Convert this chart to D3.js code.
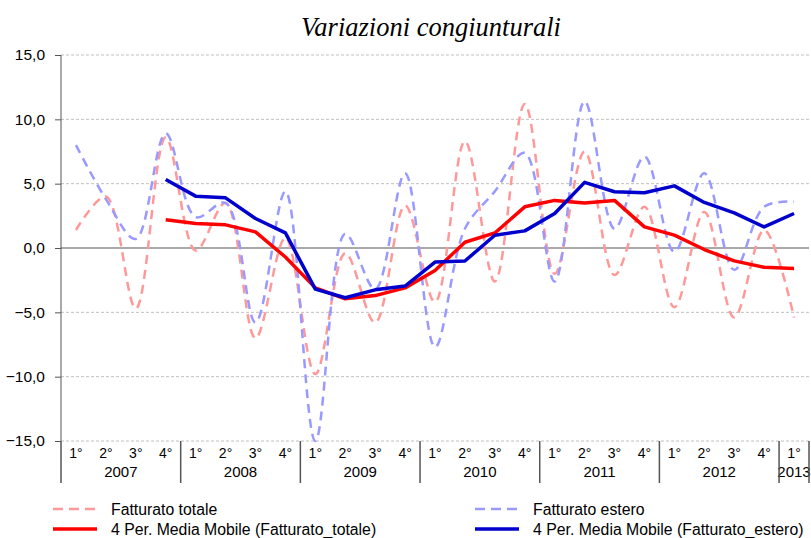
<!DOCTYPE html>
<meta charset="utf-8">
<style>
  body { margin: 0; background: #fff; }
  text { font-family: "Liberation Sans", Arial, sans-serif; fill: #000; }
  .grid line { stroke: #c0c0c0; stroke-dasharray: 3,2; }
</style>
<body>
<div id="chart"></div>
<script src="https://d3js.org/d3.v7.min.js"></script>
<script>

// quarters 2007 Q1 .. 2013 Q1
var years = ["2007", "2008", "2009", "2010", "2011", "2012", "2013"];
var quarterLabels = ["1°", "2°", "3°", "4°"];
var yTicks = [15, 10, 5, 0, -5, -10, -15];

var fatturatoTotale = [1.4, 4.0, -4.7, 8.6, -0.2, 3.5, -7.0, 0.8, -9.8, -0.4, -5.8, 3.3,
                       -4.2, 8.3, -2.6, 11.2, -2.0, 7.5, -2.1, 3.2, -4.6, 2.8, -5.4, 1.4, -5.4];
var fatturatoEstero = [8.0, 3.8, 0.7, 8.9, 2.4, 3.5, -5.8, 4.4, -15.0, 1.1, -3.2, 5.8,
                       -7.7, 1.5, 4.4, 7.4, -2.6, 11.4, 1.5, 7.1, -0.3, 5.8, -1.7, 3.2, 3.6];
// 4 period moving averages (start at 4th quarter 2007)
var mediaTotale = [null, null, null, 2.2, 1.9, 1.8, 1.25, -0.7, -3.1, -3.95, -3.7, -3.1,
                   -1.75, 0.45, 1.17, 3.2, 3.7, 3.5, 3.7, 1.64, 1.0, -0.12, -1.0, -1.5, -1.6];
var mediaEstero = [null, null, null, 5.33, 4.03, 3.9, 2.29, 1.17, -3.2, -3.87, -3.25, -2.96,
                   -1.09, -1.01, 0.99, 1.33, 2.68, 5.1, 4.37, 4.29, 4.83, 3.54, 2.73, 1.64, 2.68];

var quarters = [];
years.forEach(function(y) {
  quarterLabels.forEach(function(q) {
    if (quarters.length < fatturatoTotale.length) quarters.push({year: y, q: q, key: y + "-" + q});
  });
});

var width = 811, height = 538;
var svg = d3.select("#chart").append("svg")
    .attr("width", width)
    .attr("height", height);

var x = d3.scaleBand()
    .domain(quarters.map(function(d) { return d.key; }))
    .range([61, 809]);
var y = d3.scaleLinear().domain([-15, 15]).range([441, 55]);

function cx(i) { return x(quarters[i].key) + x.bandwidth() / 2; }

// title
svg.append("text")
    .attr("x", 431)
    .attr("y", 36)
    .attr("text-anchor", "middle")
    .style("font-family", "'Liberation Serif', 'Times New Roman', serif")
    .style("font-style", "italic")
    .style("font-size", "26.5px")
    .text("Variazioni congiunturali");

// gridlines
svg.append("g")
    .attr("class", "grid")
    .selectAll("line")
    .data(yTicks.filter(function(d) { return d !== 0; }))
    .enter().append("line")
      .attr("x1", 61).attr("x2", 809)
      .attr("y1", function(d) { return y(d); })
      .attr("y2", function(d) { return y(d); });

// y axis
var gy = svg.append("g")
    .attr("transform", "translate(61,0)")
    .call(d3.axisLeft(y).tickValues(yTicks).tickSize(6).tickPadding(10)
      .tickFormat(function(d) { return d3.format(".1f")(d).replace(".", ","); }));
gy.select(".domain").attr("stroke", "#555").attr("d", "M0," + y(15) + "V" + y(-15));
gy.selectAll(".tick line").attr("stroke", "#555");
gy.selectAll(".tick text")
    .style("font-size", "15.5px")
    .style("font-family", "'Liberation Sans', Arial, sans-serif")
    .attr("fill", "#000");

// zero line
svg.append("line")
    .attr("x1", 61).attr("x2", 809)
    .attr("y1", y(0)).attr("y2", y(0))
    .attr("stroke", "#555")
    .attr("stroke-width", 1.2);

// x axis: quarter labels, years, dividers
svg.append("g")
    .selectAll("text")
    .data(quarters)
    .enter().append("text")
      .attr("x", function(d, i) { return cx(i); })
      .attr("y", 458)
      .attr("text-anchor", "middle")
      .style("font-size", "14px")
      .text(function(d) { return d.q; });

years.forEach(function(yr) {
  var idx = [];
  quarters.forEach(function(d, i) { if (d.year === yr) idx.push(i); });
  var x0 = x(quarters[idx[0]].key);
  var x1 = x(quarters[idx[idx.length - 1]].key) + x.bandwidth();
  svg.append("text")
      .attr("x", (x0 + x1) / 2)
      .attr("y", 477)
      .attr("text-anchor", "middle")
      .style("font-size", "15px")
      .text(yr);
  svg.append("line")
      .attr("x1", x0).attr("x2", x0)
      .attr("y1", 441).attr("y2", 483)
      .attr("stroke", "#555").attr("stroke-width", 1.5);
  if (yr === years[years.length - 1]) {
    svg.append("line")
        .attr("x1", x1).attr("x2", x1)
        .attr("y1", 441).attr("y2", 483)
        .attr("stroke", "#555").attr("stroke-width", 1.5);
  }
});

// lines
var smooth = d3.line()
    .defined(function(d) { return d != null; })
    .x(function(d, i) { return cx(i); })
    .y(function(d) { return y(d); })
    .curve(d3.curveCatmullRom.alpha(0.5));

var straight = d3.line()
    .defined(function(d) { return d != null; })
    .x(function(d, i) { return cx(i); })
    .y(function(d) { return y(d); });

var series = [
  {name: "Fatturato totale", data: fatturatoTotale, color: "#ff9999", dash: "9,6", w: 2.5, line: smooth},
  {name: "Fatturato estero", data: fatturatoEstero, color: "#9999ff", dash: "9,6", w: 2.5, line: smooth},
  {name: "4 Per. Media Mobile (Fatturato_totale)", data: mediaTotale, color: "#ff0000", dash: null, w: 3.5, line: straight},
  {name: "4 Per. Media Mobile (Fatturato_estero)", data: mediaEstero, color: "#0000cc", dash: null, w: 3.5, line: straight}
];

series.forEach(function(s) {
  svg.append("path")
      .datum(s.data)
      .attr("fill", "none")
      .attr("stroke", s.color)
      .attr("stroke-width", s.w)
      .attr("stroke-dasharray", s.dash)
      .attr("stroke-linejoin", "round")
      .attr("d", s.line);
});

// legend
var legendPos = [[53, 509], [475, 509], [53, 529], [475, 529]];
series.forEach(function(s, i) {
  var p = legendPos[i];
  svg.append("line")
      .attr("x1", p[0]).attr("x2", p[0] + 44)
      .attr("y1", p[1]).attr("y2", p[1])
      .attr("stroke", s.color)
      .attr("stroke-width", s.w)
      .attr("stroke-dasharray", s.dash ? "10,6" : null);
  svg.append("text")
      .attr("x", p[0] + 58)
      .attr("y", p[1] + 5.5)
      .style("font-size", "15.8px")
      .text(s.name);
});

</script>
</body>
</html>
